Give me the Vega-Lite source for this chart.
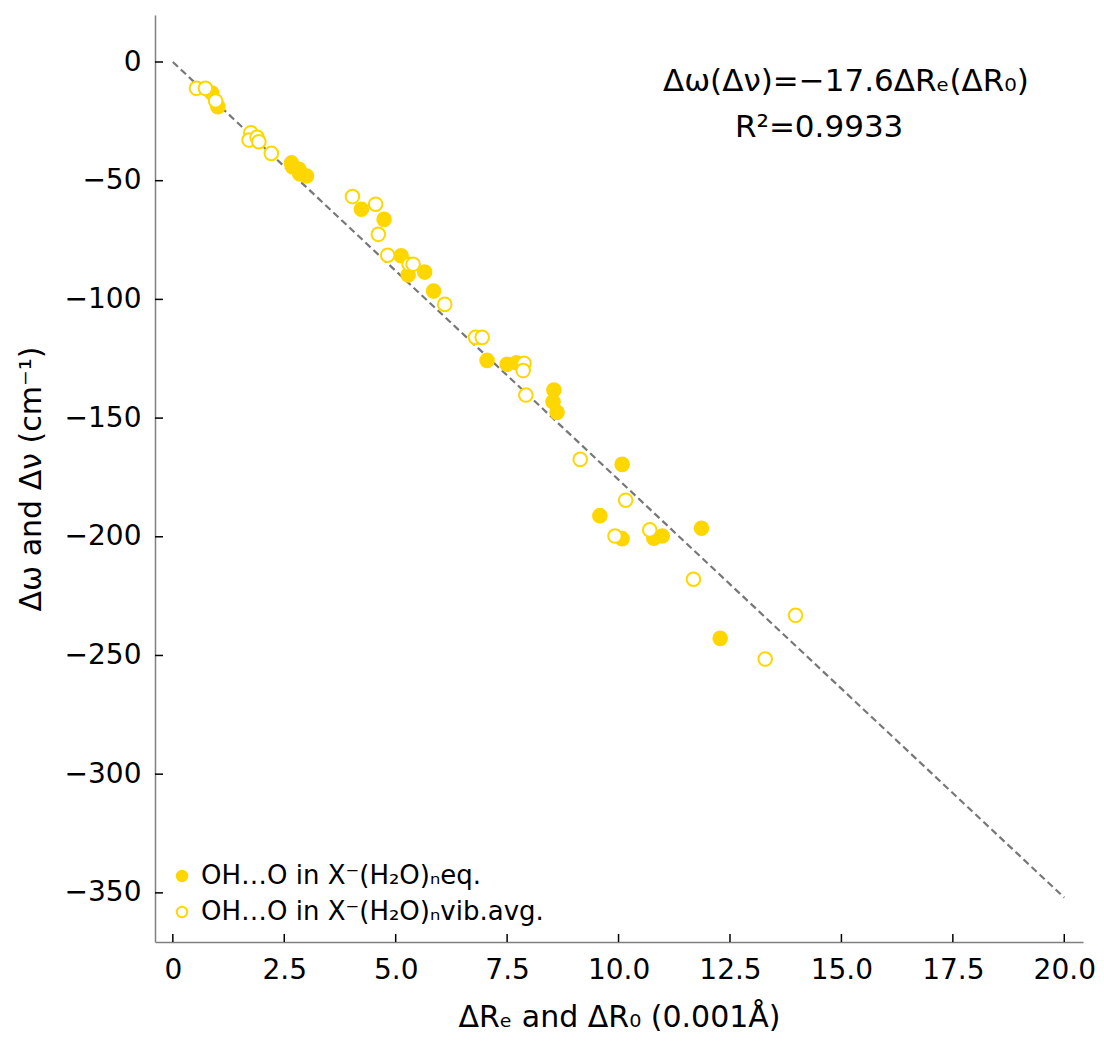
{
  "$schema": "https://vega.github.io/schema/vega-lite/v6.json",
  "width": 928,
  "height": 927,
  "autosize": "none",
  "padding": {"left": 155, "top": 15, "right": 21, "bottom": 111},
  "background": "white",
  "config": {
    "view": {"stroke": null},
    "font": "DejaVu Sans",
    "axis": {"grid": false, "domainColor": "#808080", "domainWidth": 1.5, "ticks": false, "labelColor": "black", "titleColor": "black", "labelFont": "DejaVu Sans", "titleFont": "DejaVu Sans", "labelFontSize": 28, "titleFontSize": 30, "titleFontWeight": "normal"}
  },
  "datasets": {
    "pts": [
      {"x": 0.875, "y": -13.1, "series": "OH…O in X⁻(H₂O)ₙeq."},
      {"x": 1.01, "y": -18.8, "series": "OH…O in X⁻(H₂O)ₙeq."},
      {"x": 2.66, "y": -42.5, "series": "OH…O in X⁻(H₂O)ₙeq."},
      {"x": 2.69, "y": -44.2, "series": "OH…O in X⁻(H₂O)ₙeq."},
      {"x": 2.83, "y": -45.2, "series": "OH…O in X⁻(H₂O)ₙeq."},
      {"x": 2.85, "y": -47.2, "series": "OH…O in X⁻(H₂O)ₙeq."},
      {"x": 3.0, "y": -48.0, "series": "OH…O in X⁻(H₂O)ₙeq."},
      {"x": 4.23, "y": -62.0, "series": "OH…O in X⁻(H₂O)ₙeq."},
      {"x": 4.74, "y": -66.3, "series": "OH…O in X⁻(H₂O)ₙeq."},
      {"x": 5.12, "y": -81.6, "series": "OH…O in X⁻(H₂O)ₙeq."},
      {"x": 5.28, "y": -89.7, "series": "OH…O in X⁻(H₂O)ₙeq."},
      {"x": 5.65, "y": -88.5, "series": "OH…O in X⁻(H₂O)ₙeq."},
      {"x": 5.85, "y": -96.5, "series": "OH…O in X⁻(H₂O)ₙeq."},
      {"x": 7.05, "y": -125.7, "series": "OH…O in X⁻(H₂O)ₙeq."},
      {"x": 7.5, "y": -127.3, "series": "OH…O in X⁻(H₂O)ₙeq."},
      {"x": 7.71, "y": -126.7, "series": "OH…O in X⁻(H₂O)ₙeq."},
      {"x": 8.55, "y": -138.2, "series": "OH…O in X⁻(H₂O)ₙeq."},
      {"x": 8.53, "y": -143.1, "series": "OH…O in X⁻(H₂O)ₙeq."},
      {"x": 8.62, "y": -147.6, "series": "OH…O in X⁻(H₂O)ₙeq."},
      {"x": 10.08, "y": -169.5, "series": "OH…O in X⁻(H₂O)ₙeq."},
      {"x": 9.58, "y": -191.1, "series": "OH…O in X⁻(H₂O)ₙeq."},
      {"x": 10.08, "y": -200.8, "series": "OH…O in X⁻(H₂O)ₙeq."},
      {"x": 10.79, "y": -200.6, "series": "OH…O in X⁻(H₂O)ₙeq."},
      {"x": 10.98, "y": -199.7, "series": "OH…O in X⁻(H₂O)ₙeq."},
      {"x": 11.86, "y": -196.4, "series": "OH…O in X⁻(H₂O)ₙeq."},
      {"x": 12.28, "y": -242.8, "series": "OH…O in X⁻(H₂O)ₙeq."},
      {"x": 0.53, "y": -11.1, "series": "OH…O in X⁻(H₂O)ₙvib.avg."},
      {"x": 0.73, "y": -11.1, "series": "OH…O in X⁻(H₂O)ₙvib.avg."},
      {"x": 0.96, "y": -16.4, "series": "OH…O in X⁻(H₂O)ₙvib.avg."},
      {"x": 1.75, "y": -29.8, "series": "OH…O in X⁻(H₂O)ₙvib.avg."},
      {"x": 1.71, "y": -32.9, "series": "OH…O in X⁻(H₂O)ₙvib.avg."},
      {"x": 1.89, "y": -31.7, "series": "OH…O in X⁻(H₂O)ₙvib.avg."},
      {"x": 1.93, "y": -33.6, "series": "OH…O in X⁻(H₂O)ₙvib.avg."},
      {"x": 2.21, "y": -38.5, "series": "OH…O in X⁻(H₂O)ₙvib.avg."},
      {"x": 4.03, "y": -56.7, "series": "OH…O in X⁻(H₂O)ₙvib.avg."},
      {"x": 4.55, "y": -59.9, "series": "OH…O in X⁻(H₂O)ₙvib.avg."},
      {"x": 4.61, "y": -72.6, "series": "OH…O in X⁻(H₂O)ₙvib.avg."},
      {"x": 4.82, "y": -81.4, "series": "OH…O in X⁻(H₂O)ₙvib.avg."},
      {"x": 5.3, "y": -85.2, "series": "OH…O in X⁻(H₂O)ₙvib.avg."},
      {"x": 5.39, "y": -85.2, "series": "OH…O in X⁻(H₂O)ₙvib.avg."},
      {"x": 6.1, "y": -102.1, "series": "OH…O in X⁻(H₂O)ₙvib.avg."},
      {"x": 6.79, "y": -116.0, "series": "OH…O in X⁻(H₂O)ₙvib.avg."},
      {"x": 6.94, "y": -116.0, "series": "OH…O in X⁻(H₂O)ₙvib.avg."},
      {"x": 7.88, "y": -126.9, "series": "OH…O in X⁻(H₂O)ₙvib.avg."},
      {"x": 7.86, "y": -130.0, "series": "OH…O in X⁻(H₂O)ₙvib.avg."},
      {"x": 7.92, "y": -140.3, "series": "OH…O in X⁻(H₂O)ₙvib.avg."},
      {"x": 9.14, "y": -167.4, "series": "OH…O in X⁻(H₂O)ₙvib.avg."},
      {"x": 10.16, "y": -184.6, "series": "OH…O in X⁻(H₂O)ₙvib.avg."},
      {"x": 9.92, "y": -199.7, "series": "OH…O in X⁻(H₂O)ₙvib.avg."},
      {"x": 10.7, "y": -197.1, "series": "OH…O in X⁻(H₂O)ₙvib.avg."},
      {"x": 11.68, "y": -217.9, "series": "OH…O in X⁻(H₂O)ₙvib.avg."},
      {"x": 13.97, "y": -233.1, "series": "OH…O in X⁻(H₂O)ₙvib.avg."},
      {"x": 13.29, "y": -251.5, "series": "OH…O in X⁻(H₂O)ₙvib.avg."}
    ],
    "fit": [
      {"x": 0, "y": 0},
      {"x": 20, "y": -352}
    ],
    "xticks": [{"v": 0}, {"v": 2.5}, {"v": 5}, {"v": 7.5}, {"v": 10}, {"v": 12.5}, {"v": 15}, {"v": 17.5}, {"v": 20}],
    "yticks": [{"v": 0}, {"v": -50}, {"v": -100}, {"v": -150}, {"v": -200}, {"v": -250}, {"v": -300}, {"v": -350}],
    "notes": [
      {"x": 15.1, "y": -8.4, "label": "Δω(Δν)=−17.6ΔRₑ(ΔR₀)"},
      {"x": 14.5, "y": -27.8, "label": "R²=0.9933"}
    ]
  },
  "layer": [
    {
      "data": {"name": "fit"},
      "mark": {"type": "line", "color": "#777777", "strokeWidth": 2.2, "strokeDash": [7, 4], "clip": true},
      "encoding": {
        "x": {"field": "x", "type": "quantitative", "scale": {"domain": [-0.4, 20.42], "nice": false, "zero": false},
          "axis": {"title": "ΔRₑ and ΔR₀ (0.001Å)", "values": [0, 2.5, 5, 7.5, 10, 12.5, 15, 17.5, 20], "labelExpr": "datum.value == 0 ? '0' : format(datum.value, '.1f')", "labelPadding": 14, "titlePadding": 18}},
        "y": {"field": "y", "type": "quantitative", "scale": {"domain": [-370.7, 19.8], "nice": false, "zero": false},
          "axis": {"title": "Δω and Δν (cm⁻¹)", "values": [-350, -300, -250, -200, -150, -100, -50, 0], "format": "d", "labelPadding": 14, "titlePadding": 18}}
      }
    },
    {
      "data": {"name": "xticks"},
      "mark": {"type": "rule", "color": "black", "strokeWidth": 1.5},
      "encoding": {
        "x": {"field": "v", "type": "quantitative"},
        "y": {"datum": -370.7},
        "y2": {"datum": -367.3}
      }
    },
    {
      "data": {"name": "yticks"},
      "mark": {"type": "rule", "color": "black", "strokeWidth": 1.5},
      "encoding": {
        "y": {"field": "v", "type": "quantitative"},
        "x": {"datum": -0.4},
        "x2": {"datum": -0.22}
      }
    },
    {
      "data": {"name": "pts"},
      "mark": {"type": "point", "shape": "circle", "size": 185, "strokeWidth": 2, "stroke": "#FFD700", "opacity": 1, "filled": false},
      "encoding": {
        "x": {"field": "x", "type": "quantitative"},
        "y": {"field": "y", "type": "quantitative"},
        "fill": {"field": "series", "type": "nominal",
          "scale": {"domain": ["OH…O in X⁻(H₂O)ₙeq.", "OH…O in X⁻(H₂O)ₙvib.avg."], "range": ["#FFD700", "white"]},
          "legend": {"title": null, "orient": "none", "legendX": 14, "legendY": 848, "labelFontSize": 26, "labelFont": "DejaVu Sans", "labelColor": "black", "labelLimit": 0, "symbolType": "circle", "symbolSize": 110, "symbolStrokeColor": "#FFD700", "symbolStrokeWidth": 2, "rowPadding": 10, "labelOffset": 6, "padding": 0}}
      }
    },
    {
      "data": {"name": "notes"},
      "mark": {"type": "text", "fontSize": 31, "font": "DejaVu Sans", "color": "black", "align": "center", "baseline": "middle"},
      "encoding": {
        "x": {"field": "x", "type": "quantitative"},
        "y": {"field": "y", "type": "quantitative"},
        "text": {"field": "label"}
      }
    }
  ]
}
